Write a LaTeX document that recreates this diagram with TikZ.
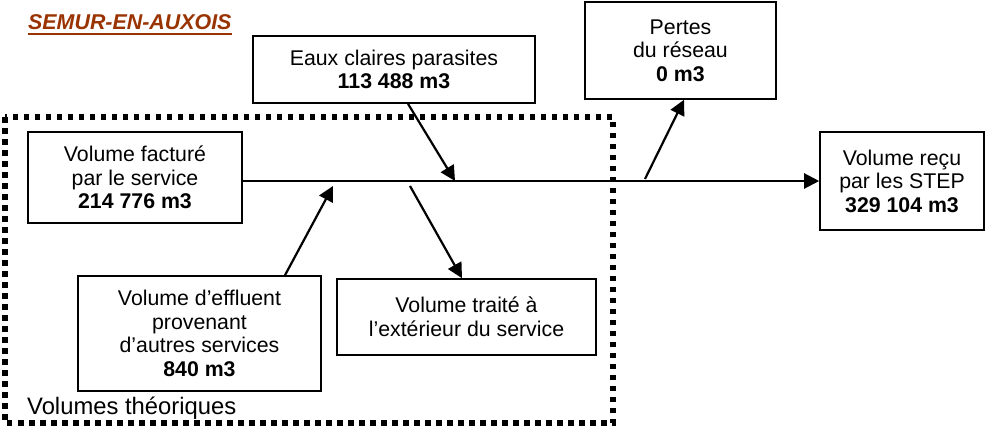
\documentclass[tikz,border=0pt]{standalone}
\usepackage{fontspec}
\setmainfont{Liberation Sans}
\usetikzlibrary{arrows.meta}
\definecolor{titlebrown}{RGB}{153,51,0}

\begin{document}
\begin{tikzpicture}[
    x=1pt, y=-1pt,
    vol-box/.style={draw, line width=1.6pt, align=center, inner sep=0pt, font=\fontsize{21.3}{23.5}\selectfont},
    flow/.style={line width=2.2pt},
    flow-arr/.style={flow, -{Triangle[length=15pt, width=15pt]}},
    zone/.style={line width=5.5pt, dash pattern=on 5.5pt off 5.5pt}
  ]

  \useasboundingbox (0,0) rectangle (986,428);

  \draw[zone] (5,117) rectangle (613,423);
  \node[anchor=base west, inner sep=0pt, font=\fontsize{23.8}{26}\selectfont] (theo) at (27,414) {Volumes théoriques};

  \node[anchor=base west, inner sep=0pt, text=titlebrown, font=\fontsize{21.4}{24}\selectfont\bfseries\itshape] (title) at (28,30) {SEMUR-EN-AUXOIS};
  \draw[titlebrown, line width=2.4pt] ([yshift=-4pt]title.base west) -- ([yshift=-4pt]title.base east);

  \node[vol-box, minimum width=282pt, minimum height=67pt] (ecp) at (394,69.5) {Eaux claires parasites\\\textbf{113 488 m3}};
  \node[vol-box, minimum width=191pt, minimum height=97pt] (pertes) at (680.5,50.5) {Pertes\\du réseau\\\textbf{0 m3}};
  \node[vol-box, minimum width=214pt, minimum height=91pt] (fact) at (135,177.5) {Volume facturé\\par le service\\\textbf{214 776 m3}};
  \node[vol-box, minimum width=164pt, minimum height=98pt] (recu) at (902,181) {Volume reçu\\par les STEP\\\textbf{329 104 m3}};
  \node[vol-box, minimum width=243pt, minimum height=115pt] (import) at (199.5,333.5) {Volume d’effluent\\provenant\\d’autres services\\\textbf{840 m3}};
  \node[vol-box, minimum width=259pt, minimum height=76pt] (export) at (466.5,317) {Volume traité à\\l’extérieur du service};

  \coordinate (j-ecp) at (455,181);
  \coordinate (j-import) at (333,186);
  \coordinate (j-export) at (410,186);
  \coordinate (j-pertes) at (645,179);

  \draw[flow-arr] (fact.east |- recu.west) -- (recu.west);
  \draw[flow-arr] ([xshift=14pt]ecp.south) -- (j-ecp);
  \draw[flow-arr] ([xshift=85.5pt]import.north) -- (j-import);
  \draw[flow-arr] (j-export) -- ([xshift=-4.5pt]export.north);
  \draw[flow-arr] (j-pertes) -- ([xshift=3.5pt]pertes.south);

\end{tikzpicture}
\end{document}
